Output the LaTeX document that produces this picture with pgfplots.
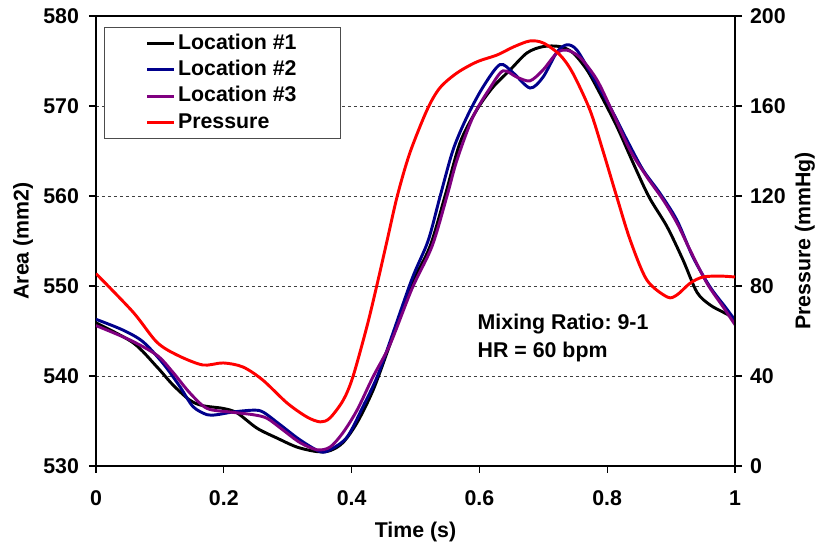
\documentclass[border=0pt]{standalone}
\usepackage{fontspec}
\setmainfont{Liberation Sans}
\usepackage{pgfplots}
\pgfplotsset{compat=1.18}
\definecolor{locblue}{RGB}{0,0,140}
\definecolor{locpurple}{RGB}{128,0,128}
\frenchspacing
\begin{document}
\begin{tikzpicture}
\pgfplotsset{
  common/.style={
    scale only axis, width=479.25pt, height=337.5pt,
    xmin=0, xmax=1,
    axis line style={line width=1.8pt},
    tick style={line width=0.8pt, black},
    major tick length=5.25pt,
    tick align=outside,
    /pgf/number format/assume math mode=true,
    ticklabel style={font=\fontsize{16}{19}\selectfont\bfseries},
  }
}
\begin{axis}[common,
  ymin=530, ymax=580, ytick={530,540,550,560,570,580},
  xtick={0,0.2,0.4,0.6,0.8,1},
  xticklabels={0,0.2,0.4,0.6,0.8,1},
  xtick pos=bottom, ytick pos=left,
  xticklabel style={yshift=-10pt},
  yticklabel style={xshift=-4pt},
  ymajorgrids,
  grid style={dash pattern=on 2.25pt off 2.25pt, line width=0.7pt, black!75},
  xlabel={Time (s)},
  ylabel={Area (mm2)},
  every axis x label/.style={at={(axis description cs:0.5,-0.1467)}, anchor=center, font=\fontsize{16}{19}\selectfont\bfseries},
  every axis y label/.style={at={(axis description cs:-0.1142,0.5)}, rotate=90, anchor=center, font=\fontsize{16}{19}\selectfont\bfseries},
  legend style={at={(axis description cs:0.0125,0.9756)}, anchor=north west,
    draw=black!70, line width=0.75pt, inner xsep=31pt, inner ysep=2.2pt,
    font=\fontsize{16}{19}\selectfont\bfseries,
    nodes={inner xsep=2pt, inner ysep=2.6pt, text height=11.5pt, text depth=3pt}},
  legend cell align=left,
  legend image code/.code={\draw[#1, line width=2.2pt] (0pt,0pt) -- (20pt,0pt);},
]
\coordinate (sw) at (rel axis cs:0,0);
\addplot[black, line width=2.2pt, smooth] coordinates {
(0,545.9) (0.0579,543.7) (0.0955,541.0) (0.1205,539.0) (0.1471,537.3) (0.1674,536.7)
(0.1987,536.4) (0.2207,535.9) (0.2520,534.2) (0.2833,533.1) (0.3146,532.1) (0.3458,531.6)
(0.3662,531.7) (0.3865,532.6) (0.4085,534.8) (0.4335,538.4) (0.4570,542.9) (0.4930,550.0)
(0.5227,554.4) (0.5462,560.0) (0.5696,565.9) (0.5962,569.6) (0.6213,572.1) (0.6479,574.0)
(0.6745,575.9) (0.6995,576.6) (0.7261,576.6) (0.7465,575.9) (0.7684,574.0) (0.7887,571.4)
(0.8153,567.7) (0.8404,563.7) (0.8654,559.9) (0.8936,556.6) (0.9186,552.9) (0.9405,549.3)
(0.9609,547.9) (0.9812,547.1) (1.0,546.4)};
\addlegendentry{Location \#1}
\addplot[locblue, line width=2.2pt, smooth] coordinates {
(0,546.3) (0.0423,545.1) (0.0736,543.8) (0.1049,541.4) (0.1315,538.8) (0.1518,536.6)
(0.1737,535.7) (0.1894,535.7) (0.2144,536.0) (0.2457,536.2) (0.2613,536.0) (0.2879,534.6)
(0.3192,532.9) (0.3505,531.6) (0.3662,531.8) (0.3928,533.2) (0.4178,536.6) (0.4444,540.7)
(0.4930,550.5) (0.5196,555.0) (0.5383,559.9) (0.5587,565.1) (0.5806,568.8) (0.6056,572.1)
(0.6322,574.6) (0.6526,573.7) (0.6792,572.0) (0.6995,573.2) (0.7214,576.0) (0.7371,576.8)
(0.7527,576.2) (0.7778,573.2) (0.8044,569.9) (0.8310,566.2) (0.8560,562.9) (0.8826,560.3)
(0.9092,557.3) (0.9343,553.2) (0.9609,549.9) (0.9844,547.7) (1.0,546.2)};
\addlegendentry{Location \#2}
\addplot[locpurple, line width=2.2pt, smooth] coordinates {
(0,545.6) (0.0532,544.0) (0.0955,542.3) (0.1205,540.4) (0.1471,538.1) (0.1737,536.4)
(0.2097,536.0) (0.2457,535.7) (0.2676,535.3) (0.2926,534.0) (0.3192,532.6) (0.3458,531.8)
(0.3662,532.1) (0.3865,533.7) (0.4085,536.2) (0.4335,539.9) (0.4601,543.5) (0.4945,549.7)
(0.5258,554.4) (0.5493,560.0) (0.5649,564.0) (0.5900,568.8) (0.6166,572.0) (0.6369,573.9)
(0.6588,573.2) (0.6792,572.8) (0.6995,574.0) (0.7214,575.9) (0.7371,576.2) (0.7574,575.4)
(0.7840,572.9) (0.8091,569.2) (0.8357,565.1) (0.8623,562.1) (0.8873,559.6) (0.9092,557.0)
(0.9296,554.0) (0.9562,550.3) (0.9812,547.7) (1.0,545.7)};
\addlegendentry{Location \#3}
\addlegendimage{red, line width=2.2pt}
\addlegendentry{Pressure}
\node[anchor=base west, font=\fontsize{16}{19}\selectfont\bfseries] at (axis cs:0.590,545.22) {Mixing Ratio: 9-1};
\node[anchor=base west, font=\fontsize{16}{19}\selectfont\bfseries] at (axis cs:0.590,542.11) {HR = 60 bpm};
\end{axis}
\begin{axis}[common,
  ymin=0, ymax=200, ytick={0,40,80,120,160,200},
  axis y line*=right, axis x line=none,
  ytick pos=right,
  yticklabel style={xshift=2.5pt},
  ylabel={Pressure (mmHg)},
  every axis y label/.style={at={(axis description cs:1.1095,0.5)}, rotate=90, anchor=center, font=\fontsize{16}{19}\selectfont\bfseries},
]
\addplot[red, line width=2.2pt, smooth] coordinates {
(0,85.5) (0.058,68.4) (0.095,55.1) (0.127,49.3) (0.167,44.9) (0.199,45.8) (0.230,44.0)
(0.261,38.2) (0.299,28.0) (0.330,21.8) (0.351,19.6) (0.366,21.3) (0.387,29.3) (0.402,39.6)
(0.424,62.0) (0.4393,80.0) (0.4554,100.0) (0.4715,120.0) (0.491,139.0)
(0.518,158.2) (0.538,168.0) (0.565,174.7) (0.596,179.6) (0.628,182.7) (0.653,186.2)
(0.679,188.9) (0.700,188.0) (0.726,182.7) (0.746,174.7) (0.773,158.2) (0.793,140.4)
(0.815,119.6) (0.836,100.4) (0.862,82.7) (0.894,75.1) (0.909,76.0) (0.930,81.3)
(0.950,84.0) (0.977,84.4) (1.0,84.0)};
\end{axis}
\pgfresetboundingbox
\path[use as bounding box] (sw) ++(-72pt,-59.25pt) rectangle ++(614.25pt,408.75pt);
\end{tikzpicture}
\end{document}
